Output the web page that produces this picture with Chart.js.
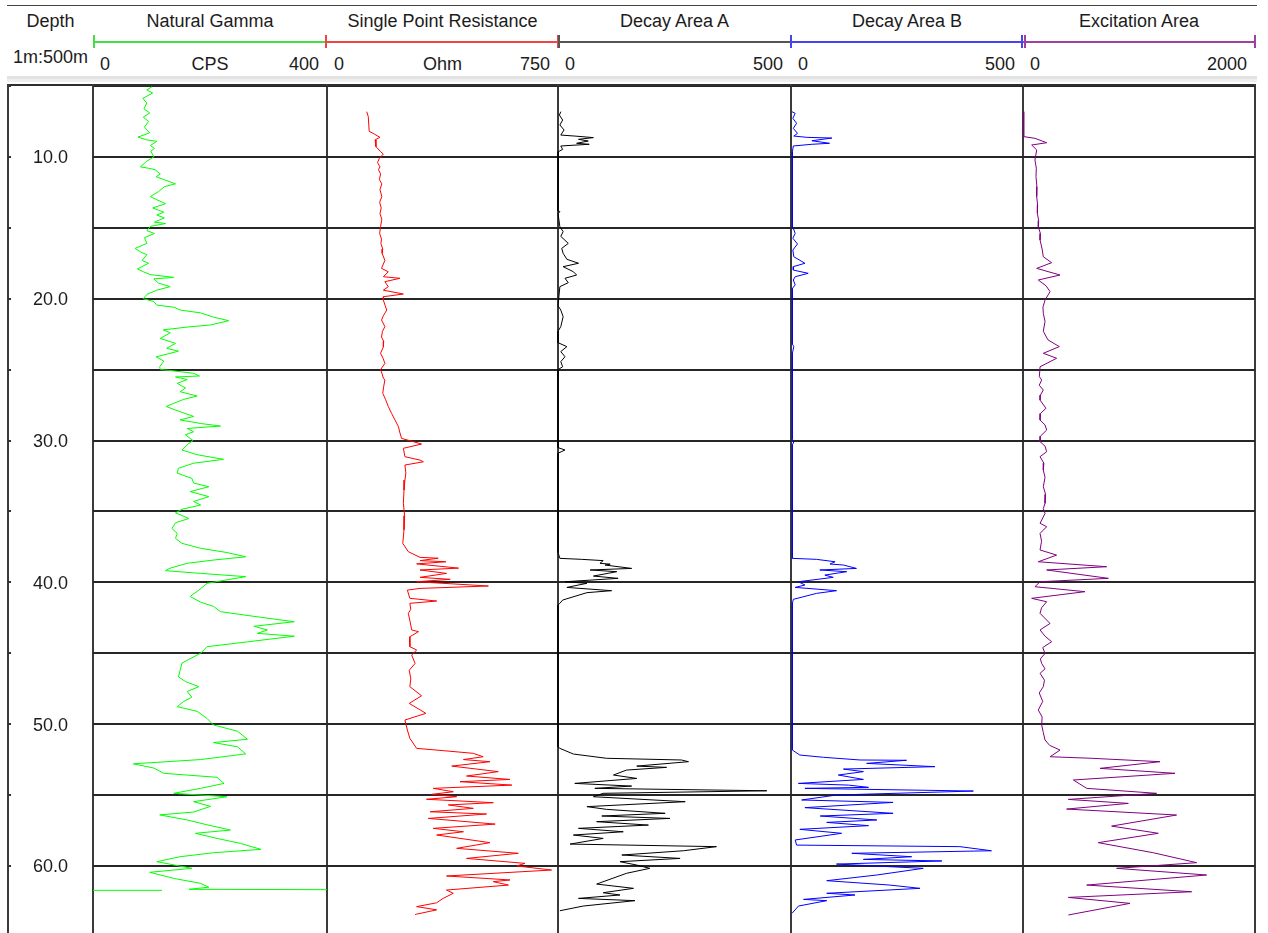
<!DOCTYPE html>
<html>
<head>
<meta charset="utf-8">
<title>Well log</title>
<script src="https://cdn.jsdelivr.net/npm/chart.js@4.4.1/dist/chart.umd.min.js"></script>
<style>
  html, body { margin: 0; padding: 0; background: #fff; }
  #log { position: relative; width: 1268px; height: 933px; overflow: hidden;
         font-family: "Liberation Sans", Arial, sans-serif; font-size: 18px; color: #1c1c1c; }
  #log div, #log canvas { position: absolute; }
  #log canvas { z-index: 2; }
  .txt { line-height: 18px; white-space: nowrap; }
  .center { transform: translateX(-50%); }
  .right { transform: translateX(-100%); }
</style>
</head>
<body>
<div id="log"></div>
<script>
// ---- track headers ----
const trackTitles = ['Natural Gamma', 'Single Point Resistance', 'Decay Area A', 'Decay Area B', 'Excitation Area'];
const trackUnits  = ['CPS', 'Ohm', '', '', ''];
const trackMin    = [0, 0, 0, 0, 0];
const trackMax    = [400, 750, 500, 500, 2000];
const depthTitle  = 'Depth';
const depthScale  = '1m:500m';

// ---- depth axis (m) ----
const DEPTH_MIN = 5;
const DEPTH_MAX = 64.73;
const gridDepths  = [5, 10, 15, 20, 25, 30, 35, 40, 45, 50, 55, 60];
const depthLabels = [10, 20, 30, 40, 50, 60];

// ---- curves: [depth m, value] ----
const gammaLog = [
  [5.05,101],[5.28,92],[5.5,102],[5.87,85],[6.2,92],[6.6,87],[6.9,97],[7.2,86],[7.5,95],[7.9,88],[8.1,92],[8.3,97],
  [8.6,77],[8.8,92],[8.9,109],[9.2,98],[9.4,105],[9.6,99],[10.0,104],[10.3,92],[10.7,81],[10.8,95],[10.9,106],[11.2,115],
  [11.4,108],[11.6,121],[11.9,141],[12.1,122],[12.45,112],[12.8,98],[13.0,108],[13.3,124],[13.6,102],[13.9,121],[14.1,109],
  [14.3,122],[14.6,105],[14.7,124],[14.9,98],[15.2,92],[15.4,105],[15.7,88],[16.1,92],[16.45,72],[16.7,81],[16.9,92],
  [17.3,84],[17.5,95],[17.9,76],[18.1,86],[18.3,98],[18.5,138],[18.6,104],[18.9,112],[19.15,132],[19.4,109],[19.7,92],
  [20.0,86],[20.2,104],[20.45,109],[20.6,138],[20.8,149],[21.0,184],[21.3,206],[21.55,232],[21.85,201],[22.0,161],[22.2,120],
  [22.4,132],[22.8,115],[23.15,141],[23.5,126],[23.7,146],[24.1,108],[24.4,121],[24.8,114],[25.0,115],[25.05,129],[25.26,172],
  [25.45,182],[25.52,141],[25.7,161],[25.97,144],[26.3,158],[26.56,149],[26.86,178],[27.1,155],[27.38,138],[27.6,125],
  [27.97,149],[28.3,172],[28.55,149],[28.8,184],[28.98,218],[29.15,161],[29.38,172],[29.6,158],[30.0,171],[30.3,161],
  [30.67,152],[31.0,178],[31.33,223],[31.6,172],[31.96,146],[32.3,144],[32.67,169],[33.0,172],[33.26,198],[33.6,166],
  [33.96,198],[34.3,172],[34.55,184],[34.85,152],[35.1,141],[35.5,164],[35.8,141],[36.2,135],[36.55,144],[36.9,141],
  [37.25,152],[37.6,184],[37.9,229],[38.2,261],[38.43,206],[38.66,161],[39.0,132],[39.18,124],[39.37,184],[39.6,261],
  [40.07,195],[40.55,181],[41.0,166],[41.4,184],[41.7,206],[42.07,218],[42.4,275],[42.78,344],[43.1,275],[43.36,298],
  [43.6,281],[43.8,344],[44.2,264],[44.54,195],[45.0,184],[45.5,161],[45.7,152],[46.2,149],[46.66,146],[47.0,158],
  [47.36,181],[47.7,161],[48.1,169],[48.4,155],[48.77,144],[49.1,178],[49.6,195],[50.06,206],[50.5,247],[51.07,264],
  [51.3,206],[51.6,247],[52.1,261],[52.5,184],[52.8,69],[53.1,104],[53.47,121],[53.75,212],[54.18,224],[54.53,184],
  [54.88,138],[55.12,229],[55.47,172],[55.8,201],[56.2,172],[56.4,114],[56.76,161],[57.1,195],[57.47,235],[57.7,175],
  [58.06,212],[58.41,252],[58.83,287],[59.07,206],[59.35,149],[59.7,109],[60.17,169],[60.45,97],[60.88,138],[61.23,184],
  [61.5,198],[61.65,164],[61.68,460], null, [61.72,0],[61.72,118]
];

const sprLog = [
  [6.81,129],[7.16,134],[8.2,137],[8.34,150],[8.46,159],[8.62,172],[8.8,156],[9.28,159],[9.63,174],[9.8,183],[10.1,170],
  [10.4,164],[10.7,172],[10.9,167],[11.2,174],[11.6,170],[11.9,178],[12.3,172],[12.8,178],[13.2,171],[13.6,176],[14.0,172],
  [14.4,178],[14.9,174],[15.4,171],[15.8,177],[16.1,175],[16.5,181],[16.8,179],[17.3,188],[17.86,177],[18.1,199],[18.45,183],
  [18.56,237],[18.8,188],[19.15,199],[19.4,183],[19.67,248],[19.86,183],[20.1,183],[20.5,189],[20.8,194],[21.2,183],[21.5,177],
  [21.97,188],[22.3,180],[22.7,177],[23.0,184],[23.4,183],[23.85,174],[24.2,182],[24.56,188],[25.0,174],[25.3,179],[25.6,183],
  [25.73,188],[26.2,184],[26.67,181],[27.1,190],[27.6,199],[28.1,210],[28.56,221],[29.03,232],[29.4,236],[29.85,242],[30.08,280],
  [30.25,307],[30.55,248],[31.14,253],[31.38,302],[31.5,313],[31.73,253],[32.3,256],[32.79,253],[33.5,250],[34.43,248],
  [35.3,252],[36.3,250],[37.25,246],[37.84,264],[38.24,302],[38.3,361],[38.47,302],[38.55,386],[38.7,291],[39.0,427],
  [39.13,302],[39.37,388],[39.65,302],[39.79,400],[39.96,291],[40.26,524],[40.43,302],[40.55,261],[41.13,269],[41.32,356],
  [41.48,269],[41.9,272],[42.19,264],[42.8,270],[43.36,275],[43.48,297],[43.84,269],[44.54,269],[44.77,291],[45.13,275],
  [45.72,286],[46.2,267],[46.8,272],[47.36,269],[48.0,307],[48.54,267],[49.24,321],[49.71,253],[50.42,261],[51.0,269],
  [51.71,291],[51.87,377],[52.06,475],[52.3,507],[52.5,443],[52.65,529],[52.96,405],[53.35,556],[53.66,453],[53.9,594],
  [54.06,432],[54.3,600],[54.53,345],[54.77,410],[54.95,340],[55.12,421],[55.3,323],[55.54,540],[55.7,394],[55.94,475],
  [56.18,335],[56.34,518],[56.65,329],[57.05,546],[57.35,345],[57.59,443],[57.82,356],[58.36,529],[58.76,421],[59.11,621],
  [59.47,453],[59.82,643],[60.0,616],[60.29,729],[60.71,388],[60.99,594],[61.11,540],[61.35,589],[61.7,388],[61.93,410],
  [62.29,377],[62.6,356],[62.87,291],[63.1,356],[63.4,291],[63.44,286]
];

const decayALog = [
  [6.81,6],[7.05,3],[7.4,10],[7.75,4],[8.1,13],[8.46,6],[8.53,36],[8.64,76],[8.76,44],[8.88,65],[9.04,40],[9.11,67],
  [9.23,6],[9.47,10],[9.63,1],[13.8,0],[13.86,4],[14.0,0],[14.92,4],[15.27,11],[15.6,6],[16.1,22],[16.45,8],[16.8,11],
  [17.22,19],[17.5,44],[17.74,11],[18.1,33],[18.33,40],[18.56,15],[18.87,22],[19.15,4],[20.5,0],[20.8,6],[21.27,11],
  [21.97,6],[22.3,0],[23.1,0],[23.38,19],[23.73,6],[24.09,15],[24.44,6],[24.8,10],[25.0,0],[30.5,0],[30.67,15],[30.9,0],
  [37.9,0],[38.31,4],[38.38,51],[38.47,97],[38.66,90],[38.72,112],[38.78,101],[39.02,158],[39.13,69],[39.25,126],[39.56,76],
  [39.72,129],[39.96,15],[40.07,62],[40.36,19],[40.59,115],[40.73,62],[41.25,10],[41.48,4],[41.6,0],[51.6,0],[51.71,4],
  [52.11,33],[52.41,104],[52.53,265],[52.65,280],[52.96,169],[53.05,233],[53.24,147],[53.59,119],[53.83,169],[54.18,36],
  [54.37,158],[54.53,79],[54.7,448],[54.88,97],[55.12,76],[55.47,273],[55.82,62],[56.01,104],[56.29,230],[56.48,94],
  [56.65,240],[56.88,83],[57.12,194],[57.35,44],[57.59,140],[57.82,33],[58.06,97],[58.46,26],[58.64,340],[58.93,269],
  [59.23,137],[59.47,262],[59.7,133],[59.94,169],[60.17,197],[60.52,147],[61.28,83],[61.58,162],[61.89,97],[62.05,133],
  [62.29,44],[62.45,165],[62.83,54],[63.16,4]
];

const decayBLog = [
  [6.81,2],[6.93,9],[7.28,4],[7.63,12],[7.99,5],[8.34,14],[8.53,6],[8.62,34],[8.67,88],[8.86,45],[9.04,83],[9.11,45],
  [9.23,5],[9.63,3],[10.0,3],[15.0,3],[15.04,5],[15.39,9],[15.74,4],[16.14,14],[16.57,4],[17.04,6],[17.5,30],[17.74,5],
  [17.98,5],[18.21,37],[18.45,9],[18.68,5],[19.03,9],[19.27,3],[23.2,3],[23.38,6],[23.85,3],[29.9,3],[30.1,6],[30.3,3],
  [38.31,3],[38.38,55],[38.55,95],
  [38.71,84],[38.78,113],[39.02,141],[39.13,62],[39.25,120],[39.49,73],[39.65,91],[39.96,16],[40.19,30],[40.36,9],[40.59,98],
  [40.78,55],[41.2,5],[41.48,3],[51.83,3],[52.18,19],[52.34,70],[52.53,149],[52.55,249],[52.77,163],[53.0,310],[53.17,113],
  [53.35,156],[53.59,102],[53.9,156],[54.18,16],[54.3,124],[54.46,167],[54.53,30],[54.72,393],[55.0,98],[55.35,23],[55.52,220],
  [55.89,30],[56.29,220],[56.48,63],[56.76,185],[56.93,77],[57.16,167],[57.42,19],[57.7,109],[58.17,9],[58.53,12],[58.64,364],
  [58.93,432],[59.11,131],[59.35,260],[59.54,156],[59.65,325],[59.87,98],[60.17,285],[60.64,185],[61.04,77],[61.35,213],
  [61.58,278],[61.93,77],[62.05,138],[62.36,27],[62.45,77],[62.83,16],[63.35,2]
];

const excitationLog = [
  [6.81,6],[8.57,6],[8.69,103],[9.0,204],[9.16,75],[9.51,118],[10.22,103],[10.8,115],[11.39,112],[12.1,120],[12.8,118],
  [13.4,126],[13.98,124],[14.5,135],[14.92,132],[15.4,150],[15.86,147],[16.5,165],[17.04,175],[17.46,247],[17.86,118],
  [18.33,319],[18.68,132],[19.1,200],[19.5,233],[20.1,190],[20.6,172],[21.03,175],[21.6,190],[22.3,175],[22.9,215],[23.38,313],
  [23.85,175],[24.2,290],[24.8,147],[25.5,141],[25.73,161],[26.1,140],[26.44,175],[26.8,150],[27.15,147],[27.73,198],[28.1,150],
  [28.56,147],[28.9,190],[29.26,204],[29.7,150],[30.08,147],[30.4,190],[30.79,204],[31.14,147],[31.6,180],[32.08,175],[32.6,190],
  [33.26,175],[33.8,195],[34.43,190],[34.8,175],[35.14,190],[35.84,147],[36.08,204],[36.55,147],[37.1,160],[37.72,147],
  [38.08,290],[38.55,132],[38.9,721],[39.13,204],[39.72,736],[39.96,147],[40.31,103],[40.66,534],[41.13,75],[41.37,204],
  [41.8,160],[42.19,147],[42.9,233],[43.36,147],[43.8,190],[44.19,247],[44.6,170],[45.01,190],[45.4,150],[45.72,161],
  [46.1,190],[46.42,147],[46.9,185],[47.36,175],[47.8,140],[48.4,170],[49.0,132],[49.5,165],[50.06,161],[50.6,175],
  [51.12,190],[51.5,230],[51.83,319],[52.3,233],[52.41,592],[52.65,1181],[53.12,664],[53.47,1310],[53.94,434],[54.53,549],
  [54.88,1152],[55.31,391],[55.59,908],[55.99,376],[56.41,1324],[57.19,764],[57.7,1166],[58.36,649],[59.07,1123],[59.77,1497],
  [60.17,807],[60.64,1583],[61.35,549],[61.82,1454],[62.22,391],[62.64,922],[63.46,391]
];

const trackLogs   = [gammaLog, sprLog, decayALog, decayBLog, excitationLog];
const curveColors = ['#00ff00', '#ff0000', '#000000', '#0000ff', '#800080'];
const scaleColors = ['#44dd44', '#f04444', '#555555', '#4444f0', '#a040a0'];

// ---- layout (page pixels) ----
const FRAME_LEFT = 8, FRAME_RIGHT = 1255;
const trackEdges = [93, 327, 558, 791, 1023, 1255];
const PLOT_TOP = 86, PLOT_BOTTOM = 933;
const EDGE_PAD = 4;
const FONT = '18px "Liberation Sans", Arial, sans-serif';

const root = document.getElementById('log');
function box(left, top, width, height, bg, z) {
  const d = document.createElement('div');
  Object.assign(d.style, { left: left + 'px', top: top + 'px', width: width + 'px', height: height + 'px', background: bg, zIndex: z || 1 });
  root.appendChild(d);
  return d;
}
function label(text, x, top, align) {
  const d = document.createElement('div');
  d.className = 'txt ' + (align || '');
  d.textContent = text;
  Object.assign(d.style, { left: x + 'px', top: top + 'px' });
  root.appendChild(d);
  return d;
}

// page top rule and header separator band
box(7, 5, 1250, 1, '#444');
box(7, 76, 1250, 3, '#e2e2e2');
box(7, 79, 1250, 3, '#efefef');

// depth header
label(depthTitle, (FRAME_LEFT + trackEdges[0]) / 2, 12, 'center');
label(depthScale, (FRAME_LEFT + trackEdges[0]) / 2, 47.5, 'center');

// track headers: title, scale bar with end ticks, min / unit / max
trackTitles.forEach((t, i) => {
  const l = trackEdges[i], r = trackEdges[i + 1];
  label(t, (l + r) / 2, 12, 'center');
  box(l, 40.5, r - l, 2, scaleColors[i]);
  label(String(trackMin[i]), l + 7, 55);
  label(String(trackMax[i]), r - 8, 55, 'right');
  if (trackUnits[i]) label(trackUnits[i], (l + r) / 2, 55, 'center');
});
const headerTicks = [[93, 0], [325, 1], [557, 1], [558, 2], [790, 3], [1021, 3], [1024, 4], [1254, 4]];
headerTicks.forEach(([x, i]) => box(x, 35, 2, 13, scaleColors[i], 2));

// plot frame
box(FRAME_LEFT - 1, PLOT_TOP - 2, FRAME_RIGHT - FRAME_LEFT + 2, 2, '#2e2e2e');
[FRAME_LEFT].concat(trackEdges).forEach(x => box(x - 1, PLOT_TOP - 2, 2, PLOT_BOTTOM - PLOT_TOP + 2, '#3a3a3a'));

function makeCanvas(left, width) {
  const c = document.createElement('canvas');
  c.width = width; c.height = PLOT_BOTTOM - PLOT_TOP;
  Object.assign(c.style, { left: left + 'px', top: PLOT_TOP + 'px', width: width + 'px', height: (PLOT_BOTTOM - PLOT_TOP) + 'px' });
  root.appendChild(c);
  return c;
}

function depthAxis(showGrid) {
  return {
    type: 'linear', min: DEPTH_MIN, max: DEPTH_MAX, reverse: true,
    afterBuildTicks: s => { s.ticks = gridDepths.map(v => ({ value: v })); },
    ticks: { display: false },
    border: { display: false },
    grid: { display: showGrid, color: '#262626', lineWidth: 2, drawTicks: false }
  };
}

const baseOptions = {
  responsive: false, animation: false, events: [],
  plugins: { legend: { display: false }, tooltip: { enabled: false } }
};

// depth column: labels every 10 m, small ticks every 5 m on the left rule
const depthColumn = {
  id: 'depthColumn',
  afterDraw(chart) {
    const y = chart.scales.y, a = chart.chartArea, ctx = chart.ctx;
    ctx.save();
    ctx.fillStyle = '#1c1c1c';
    ctx.font = FONT;
    ctx.textAlign = 'center';
    ctx.textBaseline = 'alphabetic';
    depthLabels.forEach(d => ctx.fillText(d.toFixed(1), (a.left + a.right) / 2, y.getPixelForValue(d) + 6.5));
    ctx.fillStyle = '#333';
    gridDepths.forEach(d => ctx.fillRect(a.left, Math.round(y.getPixelForValue(d)) - 1, 3, 2));
    ctx.restore();
  }
};
new Chart(makeCanvas(FRAME_LEFT, trackEdges[0] - FRAME_LEFT), {
  type: 'scatter',
  data: { datasets: [] },
  options: Object.assign({}, baseOptions, {
    scales: { x: { type: 'linear', min: 0, max: 1, display: false }, y: depthAxis(false) }
  }),
  plugins: [depthColumn]
});

// one chart per log track
trackLogs.forEach((log, i) => {
  const l = trackEdges[i], r = trackEdges[i + 1];
  new Chart(makeCanvas(l - EDGE_PAD, r - l + EDGE_PAD), {
    type: 'scatter',
    data: {
      datasets: [{
        data: log.map(p => p ? { x: p[1], y: p[0] } : { x: null, y: null }),
        showLine: true, spanGaps: false, tension: 0,
        borderColor: curveColors[i], borderWidth: 1, pointRadius: 0,
        clip: { left: 3, top: 0, right: 0, bottom: 0 }
      }]
    },
    options: Object.assign({}, baseOptions, {
      layout: { padding: { left: EDGE_PAD, right: 0, top: 0, bottom: 0 } },
      scales: {
        x: { type: 'linear', min: trackMin[i], max: trackMax[i], display: false },
        y: depthAxis(true)
      }
    })
  });
});
</script>
</body>
</html>
